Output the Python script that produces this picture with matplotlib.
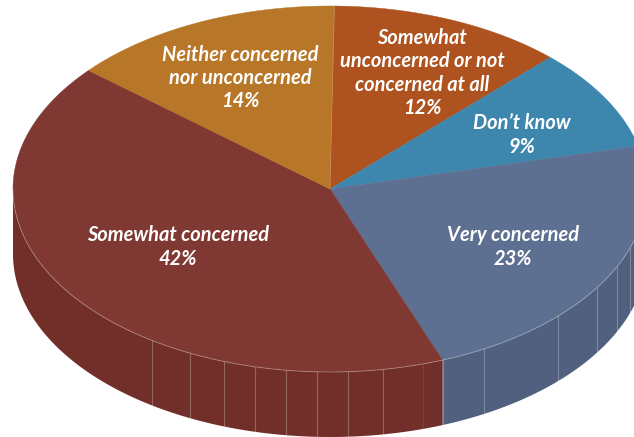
import numpy as np
import matplotlib
matplotlib.use("Agg")
import matplotlib.pyplot as plt

# Survey responses, in clockwise order from the top of the pie
categories = [
    "Somewhat\nunconcerned or not\nconcerned at all",
    "Don\u2019t know",
    "Very concerned",
    "Somewhat concerned",
    "Neither concerned\nnor unconcerned",
]
shares = [12, 9, 23, 42, 14]

top_colors = ["#AE521F", "#3D86AD", "#5E7091", "#7F3932", "#B87728"]
side_colors = ["#93441A", "#33708F", "#50607E", "#722F29", "#9A6321"]
label_xy = [(422, 73), (522, 135), (513, 247), (178, 247), (240, 78)]

# Geometry of the tilted disc, in pixels
CX, CY = 330, 189
RX, RY = 317, 183
DEPTH = 65
START_DEG = 0.8

# Seams on the front wall of the disc, as horizontal pixel positions
seam_x = [152, 190, 224, 255, 286, 317, 348, 383, 484, 558, 597, 617, 630]
faint_seam_x = [423]


def rim(theta_deg, drop=0.0):
    t = np.radians(theta_deg)
    return CX + RX * np.sin(t), CY - RY * np.cos(t) + drop


def rim_y_at(x):
    return CY + RY * np.sqrt(1 - ((x - CX) / RX) ** 2)


fig = plt.figure(figsize=(6.34, 4.37), dpi=100, facecolor="white")
ax = fig.add_axes([0, 0, 1, 1])
ax.set_xlim(0, 634)
ax.set_ylim(437, 0)
ax.axis("off")

edges = START_DEG + np.cumsum([0] + shares) * 3.6

# Front wall first, so the top face overlaps it
for a0, a1, col in zip(edges[:-1], edges[1:], side_colors):
    lo, hi = max(a0, 90), min(a1, 270)
    if lo >= hi:
        continue
    th = np.linspace(lo, hi, 200)
    x0, y0 = rim(th)
    x1, y1 = rim(th[::-1], DEPTH)
    ax.fill(np.r_[x0, x1], np.r_[y0, y1], color=col, lw=0, zorder=1)

for x in seam_x:
    y = rim_y_at(x)
    ax.plot([x, x], [y, y + DEPTH], color="white", alpha=0.26, lw=0.8, zorder=2)
for x in faint_seam_x:
    y = rim_y_at(x)
    ax.plot([x, x], [y, y + DEPTH], color="white", alpha=0.08, lw=0.8, zorder=2)

# Boundary between the maroon and slate walls
bx, by = rim(edges[3])
ax.plot([bx, bx], [by, by + DEPTH], color="white", alpha=0.26, lw=0.8, zorder=2)

# Top face
for a0, a1, col in zip(edges[:-1], edges[1:], top_colors):
    th = np.linspace(a0, a1, 300)
    x, y = rim(th)
    ax.fill(np.r_[CX, x], np.r_[CY, y], color=col, lw=0.3, ec=col, zorder=3)

# Thin highlight along the front rim of the top face
th = np.linspace(90, 270, 500)
x, y = rim(th)
ax.plot(x, y, color="white", alpha=0.28, lw=0.7, zorder=4)

# Slightly lighter seam between the gold and rust slices
x, y = rim(edges[0])
ax.plot([CX, x], [CY, y], color="white", alpha=0.12, lw=0.7, zorder=4)

for name, share, (lx, ly) in zip(categories, shares, label_xy):
    ax.text(lx, ly, f"{name}\n{share}%", color="white", ha="center", va="center",
            family="Lato", weight="bold", style="italic", fontsize=14.4,
            linespacing=1.2, zorder=5)

fig.savefig("out.png", dpi=100, facecolor="white")
